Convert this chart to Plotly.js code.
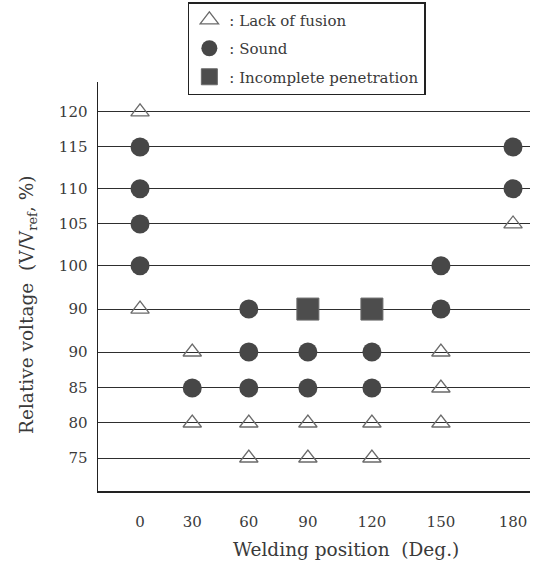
<!DOCTYPE html>
<html>
<head>
<meta charset="utf-8">
<script src="https://cdn.plot.ly/plotly-3.0.1.min.js"></script>
<style>html,body{margin:0;padding:0;background:#fff;}#chart{width:537px;height:563px;}</style>
</head>
<body>
<div id="chart"></div>
<script>
// Welding position categories (deg) and their drawn spacing along the axis
const positions = [0, 30, 60, 90, 120, 150, 180];
const positionAxis = [0, 0.84, 1.75, 2.70, 3.73, 4.84, 6.0];

// Relative voltage rows (bottom to top), labels as printed, and their drawn spacing
const voltageLabels = ['75', '80', '85', '90', '90', '100', '105', '110', '115', '120'];
const voltageAxis = [0, 0.905, 1.81, 2.74, 3.85, 4.97, 6.05, 6.96, 8.04, 8.95];

// Results: welding position (deg) and voltage row index
const lackPos = [0, 0, 30, 30, 60, 60, 90, 90, 120, 120, 150, 150, 150, 180];
const lackRow = [9, 4, 3, 1, 1, 0, 1, 0, 1, 0, 3, 2, 1, 6];

const soundPos = [0, 0, 0, 0, 30, 60, 60, 60, 90, 90, 120, 120, 150, 150, 180, 180];
const soundRow = [8, 7, 6, 5, 2, 4, 3, 2, 3, 2, 3, 2, 5, 4, 8, 7];

const incPos = [90, 120];
const incRow = [4, 4];

const seriesNames = [': Lack of fusion', ': Sound', ': Incomplete penetration'];

const px = p => positionAxis[positions.indexOf(p)];
const py = r => voltageAxis[r];

const font = 'DejaVu Serif';
const txt = '#3a3a3a';

const traces = [
  {
    x: lackPos.map(px), y: lackRow.map(py), name: seriesNames[0],
    mode: 'markers', type: 'scatter', legendgroup: 'a',
    marker: {symbol: 'triangle-up-open', size: 16, color: '#6a6a6a', line: {width: 1.3, color: '#6a6a6a'}}
  },
  {
    x: soundPos.map(px), y: soundRow.map(py), name: seriesNames[1],
    mode: 'markers', type: 'scatter', legendgroup: 'b',
    marker: {symbol: 'circle', size: 19, color: '#474747', line: {width: 0}}
  },
  {
    x: incPos.map(px), y: incRow.map(py), name: seriesNames[2],
    mode: 'markers', type: 'scatter', legendgroup: 'c',
    marker: {symbol: 'square', size: 22, color: '#4d4d4d', line: {width: 1, color: '#6a6a6a'}}
  }
];

const layout = {
  width: 537, height: 563,
  margin: {l: 98, r: 7, t: 82, b: 72, autoexpand: false},
  paper_bgcolor: '#fff', plot_bgcolor: '#fff',
  font: {family: font, color: txt, size: 15},
  showlegend: true,
  legend: {
    x: 0.208, y: 0.9964, xanchor: 'left', yanchor: 'top', yref: 'container',
    bordercolor: '#222', borderwidth: 1.5, bgcolor: '#fff',
    font: {family: font, size: 15, color: txt},
    traceorder: 'grouped', tracegroupgap: 6, itemsizing: 'trace'
  },
  xaxis: {
    range: [-0.676, 6.273],
    tickvals: positionAxis, ticktext: positions.map(String),
    showgrid: false, zeroline: false,
    showline: true, linecolor: '#222', linewidth: 1.5,
    ticks: '', ticklabelstandoff: 16,
    tickfont: {family: font, size: 15, color: txt}
  },
  yaxis: {
    range: [-0.853, 9.72],
    tickvals: voltageAxis, ticktext: voltageLabels,
    showgrid: true, gridcolor: '#2e2e2e', gridwidth: 1,
    zeroline: false,
    showline: true, linecolor: '#222', linewidth: 1.5,
    ticks: '', ticklabelstandoff: 6,
    tickfont: {family: font, size: 15, color: txt}
  },
  annotations: [
    {text: 'Relative voltage  (V/V<sub>ref</sub>, %)', xref: 'paper', yref: 'paper',
     x: -0.162, y: 0.455, xanchor: 'center', yanchor: 'middle', textangle: -90,
     showarrow: false, font: {family: font, size: 18.5, color: txt}},
    {text: 'Welding position  (Deg.)', xref: 'paper', yref: 'paper',
     x: 0.574, y: -0.142, xanchor: 'center', yanchor: 'middle',
     showarrow: false, font: {family: font, size: 18.5, color: txt}}
  ]
};

Plotly.newPlot('chart', traces, layout, {displayModeBar: false, staticPlot: true});
</script>
</body>
</html>
